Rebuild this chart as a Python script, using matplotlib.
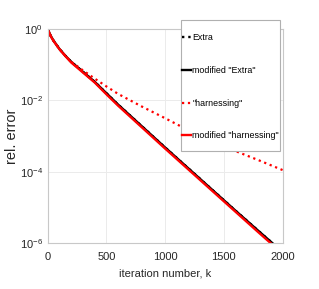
import numpy as np
import matplotlib.pyplot as plt
from matplotlib.patches import Rectangle

plt.rcParams['font.family'] = ['Liberation Sans', 'DejaVu Sans']
plt.rcParams['mathtext.default'] = 'regular'

# log10 of relative error
k_extra = [0, 25, 50, 100, 150, 200, 300, 400, 500, 600, 800, 1000, 1200, 1400, 1600, 1800, 1915]
extra = [0, -0.19, -0.33, -0.56, -0.75, -0.92, -1.20, -1.48, -1.80, -2.12, -2.72, -3.32, -3.91, -4.50, -5.09, -5.67, -6.0]
mod_extra = [0, -0.19, -0.33, -0.56, -0.75, -0.92, -1.20, -1.48, -1.80, -2.12, -2.72, -3.32, -3.91, -4.50, -5.09, -5.67, -6.0]

k_harn = [0, 25, 50, 100, 150, 200, 300, 400, 500, 600, 800, 1000, 1200, 1400, 1600, 1800, 2000]
harn = [0, -0.19, -0.33, -0.56, -0.75, -0.92, -1.16, -1.39, -1.61, -1.82, -2.17, -2.50, -2.84, -3.14, -3.42, -3.68, -3.95]

k_mod_harn = [0, 25, 50, 100, 150, 200, 300, 400, 500, 600, 800, 1000, 1200, 1400, 1600, 1800, 1900]
mod_harn = [0, -0.20, -0.34, -0.57, -0.76, -0.94, -1.22, -1.50, -1.83, -2.15, -2.75, -3.35, -3.94, -4.53, -5.12, -5.71, -6.0]

fig = plt.figure(figsize=(3.19, 2.89), dpi=100)
ax = fig.add_axes([0.1495, 0.158, 0.7365, 0.742])

ax.plot(k_extra, 10 ** np.array(extra), color='black', ls=':', lw=1.7, label='Extra')
ax.plot(k_extra, 10 ** np.array(mod_extra), color='black', ls='-', lw=1.7, label='modified "Extra"')
ax.plot(k_harn, 10 ** np.array(harn), color='red', ls=':', lw=1.6, label='"harnessing"')
ax.plot(k_mod_harn, 10 ** np.array(mod_harn), color='red', ls='-', lw=1.7, label='modified "harnessing"')

ax.set_yscale('log')
ax.set_xlim(0, 2000)
ax.set_ylim(1e-6, 1)
ax.set_xticks([0, 500, 1000, 1500, 2000])
ax.set_yticks([1e-6, 1e-4, 1e-2, 1])
ax.yaxis.set_minor_locator(plt.NullLocator())
ax.grid(True, color='#ebebeb', lw=0.7)
ax.set_axisbelow(True)
for s in ax.spines.values():
    s.set_color('#c8c8c8')
ax.tick_params(axis='x', pad=6)
ax.tick_params(length=0, labelsize=8, colors='#262626')

ax.set_xlabel('iteration number, k', fontsize=8, color='#262626', labelpad=5)
ax.set_ylabel('rel. error', fontsize=10.5, color='#262626')
ax.yaxis.set_label_coords(-0.12, 0.5)
ax.set_zorder(1)

# legend box drawn in figure pixels, entries as a frameless figure legend on top
frame = Rectangle((181 / 319, 1 - 151 / 289), 99 / 319, 131 / 289,
                  transform=fig.transFigure, facecolor='white',
                  edgecolor='#b0b0b0', lw=0.8, zorder=2)
fig.patches.append(frame)
handles, labels = ax.get_legend_handles_labels()
leg = fig.legend(handles, labels, loc='upper left',
                 bbox_to_anchor=(182 / 319, 1 - 33.5 / 289), borderaxespad=0,
                 fontsize=6.4, handlelength=1.0, handletextpad=0.15,
                 labelspacing=2.65, borderpad=0, frameon=False)
leg.set_zorder(3)

fig.savefig('out.png', dpi=100)
